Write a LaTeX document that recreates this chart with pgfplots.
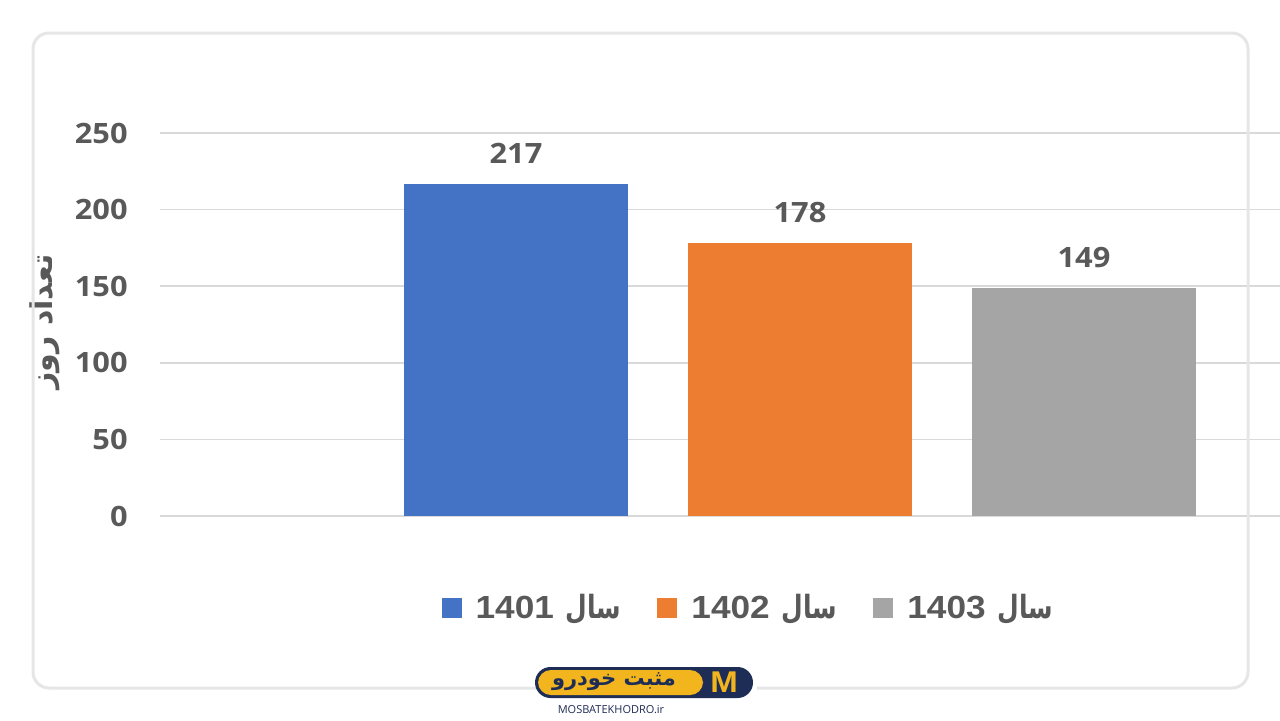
\documentclass[border=0pt]{standalone}
\usepackage{pgfplots}
\pgfplotsset{compat=1.18}
\usepackage{fontspec}
\setmainfont{Open Sans}
\newfontfamily\tickf{Open Sans}[FakeStretch=1.1]
\newfontfamily\legf{Liberation Sans}[FakeStretch=1.1]
\newfontfamily\arabicfont[Script=Arabic]{DejaVu Sans}
\newfontfamily\arabicleg[Script=Arabic, FakeStretch=0.78]{DejaVu Sans}
\TeXXeTstate=1
\definecolor{barblue}{HTML}{4472C4}
\definecolor{barorange}{HTML}{ED7D31}
\definecolor{bargray}{HTML}{A5A5A5}
\definecolor{gridgray}{HTML}{D9D9D9}
\definecolor{textgray}{HTML}{595959}
\definecolor{bordergray}{HTML}{E6E6E6}
\definecolor{logonavy}{HTML}{1E2D55}
\definecolor{logoyellow}{HTML}{F2B51E}
\pgfplotsset{sq legend/.style={legend image code/.code={\fill[##1] (0pt,-5pt) rectangle (10pt,5pt); \path (15pt,0pt);}}}
\begin{document}
\begin{tikzpicture}[x=0.5pt,y=0.5pt]
\useasboundingbox (0,0) rectangle (1280,720);
\clip (0,0) rectangle (1280,720);
\fill[white] (0,0) rectangle (1280,720);
\begin{axis}[
  at={(80pt,102pt)}, anchor=south west,
  scale only axis, width=640pt, height=191.5pt,
  xmin=160, xmax=1440, ymin=0, ymax=250,
  ytick={0,50,100,150,200,250}, xtick=\empty,
  ymajorgrids, grid style={draw=gridgray, line width=0.75pt},
  axis line style={draw=none}, major tick length=0pt,
  clip=false,
  /pgf/number format/assume math mode=true,
  yticklabel style={font=\tickf\bfseries\fontsize{14}{16}\selectfont, text=textgray, anchor=east, inner sep=0pt, xshift=-16pt},
  ylabel={\arabicfont\bfseries\fontsize{15}{17}\selectfont\beginR تعداد روز\endR},
  ylabel style={at={(rel axis cs:-0.0898,0.5065)}, anchor=center, text=textgray},
  nodes near coords,
  every node near coord/.append style={font=\tickf\bfseries\fontsize{14}{16}\selectfont, text=textgray, inner sep=0pt, yshift=10pt, anchor=south},
  legend columns=3,
  legend style={at={(rel axis cs:0.4605,-0.240)}, anchor=center, draw=none, fill=none,
    font=\legf\bfseries\fontsize{16}{18}\selectfont, text=textgray,
    /tikz/every even column/.append style={column sep=16pt}},
]
\addplot[ybar, bar width=112pt, bar shift=0pt, fill=barblue, draw=none, sq legend] coordinates {(516,217)};
\addlegendentry{1401\hspace{6pt}{\arabicleg\beginR سال\endR}}
\addplot[ybar, bar width=112pt, bar shift=0pt, fill=barorange, draw=none, sq legend] coordinates {(800,178)};
\addlegendentry{1402\hspace{6pt}{\arabicleg\beginR سال\endR}}
\addplot[ybar, bar width=112pt, bar shift=0pt, fill=bargray, draw=none, sq legend] coordinates {(1084,149)};
\addlegendentry{1403\hspace{6pt}{\arabicleg\beginR سال\endR}}
\end{axis}
\draw[bordergray, line width=1.5pt, rounded corners=8pt] (33,32) rectangle (1248,687);
% logo
\fill[white] (550,18) rectangle (757,46);
\fill[logonavy, rounded corners=7.75pt] (535,22) rectangle (753,53);
\fill[logoyellow, rounded corners=6.5pt] (538,25) rectangle (703,50);
\node[text=logonavy] at (614,38) {\arabicfont\bfseries\fontsize{10.5}{11}\selectfont\beginR مثبت خودرو\endR};
\node[text=logoyellow] at (724,38) {\legf\bfseries\fontsize{15}{15}\selectfont M};
\node[text=logonavy] at (611,10) {\fontsize{5.5}{6}\selectfont MOSBATEKHODRO.ir};
\end{tikzpicture}
\end{document}
